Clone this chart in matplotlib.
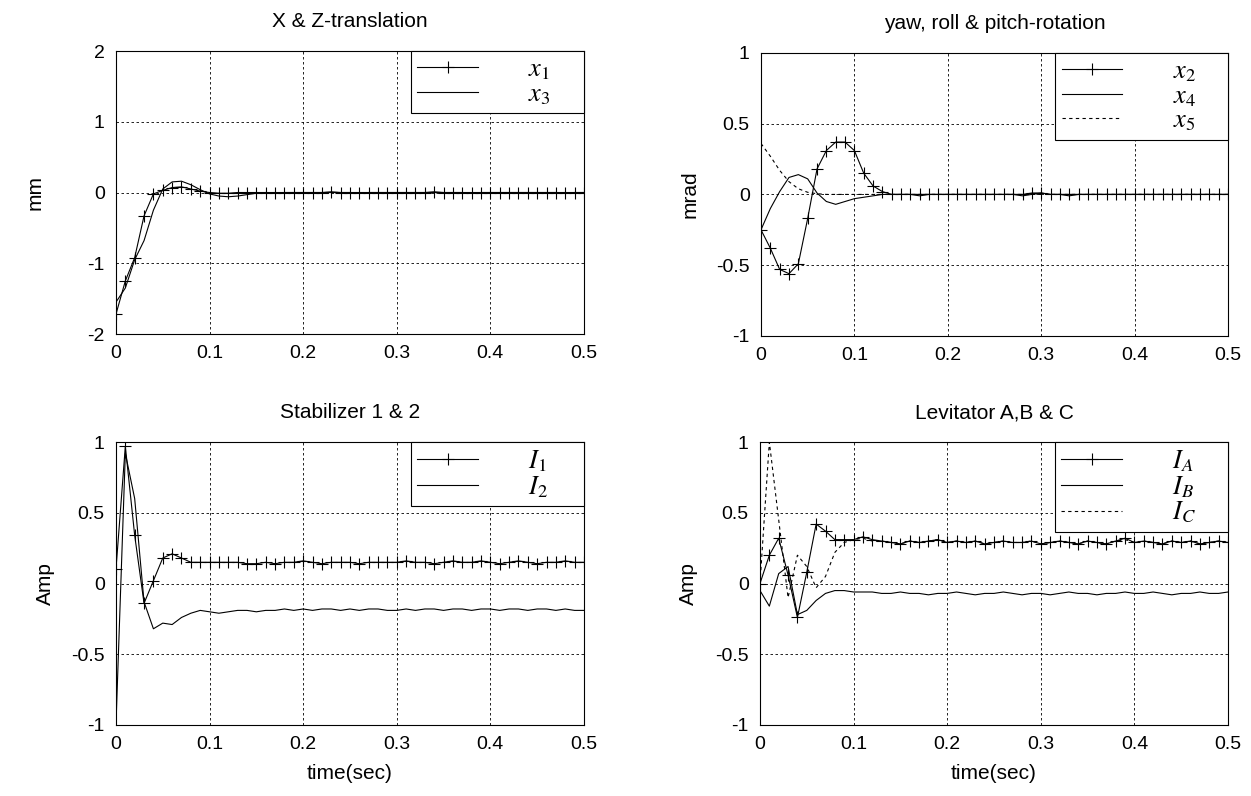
import numpy as np
import matplotlib
matplotlib.use('Agg')
import matplotlib.pyplot as plt

# sample instants (s)
t = np.linspace(0, 0.5, 51)

# X & Z translation (mm)
x1 = [-1.72, -1.25, -0.92, -0.33, -0.02, 0.03, 0.07, 0.08, 0.05, 0.02,
      0.00, -0.01, -0.01, 0.00, 0.00, 0.00, 0.00, -0.01, 0.00, 0.00,
      0.00, 0.00, 0.00, 0.01, 0.00, 0.00, -0.01, 0.00, 0.00, 0.00,
      0.00, 0.00, 0.00, 0.00, 0.01, 0.00, 0.00, 0.00, -0.01, 0.00,
      0.00, 0.00, 0.00, 0.00, 0.00, 0.00, 0.00, 0.00, -0.01, 0.00, 0.00]
x3 = [-1.55, -1.35, -0.95, -0.68, -0.25, 0.05, 0.15, 0.16, 0.11, 0.04,
      -0.02, -0.05, -0.06, -0.05, -0.03, -0.01, 0.00, 0.00, 0.00, 0.00,
      0.00, 0.00, 0.00, 0.00, 0.00, 0.00, 0.00, 0.00, 0.00, 0.00,
      0.00, 0.00, 0.00, 0.00, 0.00, 0.00, 0.00, 0.00, 0.00, 0.00,
      0.00, 0.00, 0.00, 0.00, 0.00, 0.00, 0.00, 0.00, 0.00, 0.00, 0.00]

# yaw, roll & pitch rotation (mrad)
x2 = [-0.25, -0.38, -0.53, -0.56, -0.49, -0.17, 0.18, 0.31, 0.37, 0.37,
      0.31, 0.15, 0.06, 0.02, 0.00, 0.00, 0.00, 0.00, 0.00, 0.00,
      0.00, 0.00, 0.00, 0.00, 0.00, 0.00, 0.00, 0.00, 0.00, 0.01,
      0.01, 0.00, 0.00, 0.00, 0.00, 0.00, 0.00, 0.00, 0.00, 0.00,
      0.00, 0.00, 0.00, 0.00, 0.00, 0.00, 0.00, 0.00, 0.00, 0.00, 0.00]
x4 = [-0.25, -0.10, 0.02, 0.12, 0.14, 0.11, 0.01, -0.05, -0.07, -0.05,
      -0.03, -0.02, -0.01, 0.00, 0.00, 0.00, 0.00, -0.01, 0.00, 0.00,
      0.00, 0.00, 0.00, 0.00, 0.00, 0.00, 0.00, 0.00, -0.01, 0.00,
      0.01, 0.00, 0.00, -0.01, 0.00, 0.00, 0.00, 0.00, 0.00, 0.00,
      0.00, 0.00, 0.00, 0.00, 0.00, 0.00, 0.00, 0.00, 0.00, 0.00, 0.00]
x5 = [0.36, 0.27, 0.17, 0.09, 0.04, 0.015, 0.005, 0.00, 0.00, 0.00,
      0.00, 0.00, 0.00, 0.00, 0.00, 0.00, 0.00, 0.00, 0.00, 0.00,
      0.00, 0.00, 0.00, 0.00, 0.00, 0.00, 0.00, 0.00, 0.00, 0.00,
      0.00, 0.00, 0.00, 0.00, 0.00, 0.00, 0.00, 0.00, 0.00, 0.00,
      0.00, 0.00, 0.00, 0.00, 0.00, 0.00, 0.00, 0.00, 0.00, 0.00, 0.00]

# stabilizer currents (A)
I1 = [0.10, 0.97, 0.34, -0.14, 0.02, 0.18, 0.21, 0.18, 0.15, 0.15,
      0.15, 0.15, 0.15, 0.15, 0.14, 0.14, 0.15, 0.14, 0.15, 0.15,
      0.16, 0.15, 0.14, 0.15, 0.15, 0.15, 0.14, 0.15, 0.15, 0.15,
      0.15, 0.16, 0.15, 0.15, 0.14, 0.15, 0.16, 0.15, 0.15, 0.16,
      0.15, 0.14, 0.15, 0.16, 0.15, 0.14, 0.15, 0.15, 0.16, 0.15, 0.15]
I2 = [-1.00, 0.92, 0.60, -0.13, -0.32, -0.28, -0.29, -0.24, -0.21, -0.19,
      -0.20, -0.21, -0.20, -0.19, -0.19, -0.20, -0.19, -0.19, -0.18, -0.19,
      -0.18, -0.19, -0.18, -0.18, -0.19, -0.18, -0.19, -0.18, -0.18, -0.19,
      -0.19, -0.18, -0.19, -0.18, -0.18, -0.19, -0.18, -0.18, -0.19, -0.18,
      -0.18, -0.19, -0.18, -0.18, -0.19, -0.18, -0.18, -0.19, -0.18, -0.19, -0.19]

# levitator currents (A)
IA = [0.00, 0.20, 0.32, 0.06, -0.24, 0.08, 0.42, 0.37, 0.31, 0.31,
      0.31, 0.33, 0.31, 0.30, 0.29, 0.28, 0.30, 0.29, 0.30, 0.31,
      0.29, 0.30, 0.29, 0.30, 0.28, 0.29, 0.30, 0.29, 0.29, 0.30,
      0.28, 0.29, 0.30, 0.29, 0.28, 0.30, 0.29, 0.28, 0.30, 0.32,
      0.29, 0.30, 0.29, 0.28, 0.30, 0.29, 0.30, 0.28, 0.29, 0.30, 0.29]
IB = [-0.05, -0.16, 0.07, 0.12, -0.22, -0.19, -0.12, -0.07, -0.05, -0.05,
      -0.06, -0.06, -0.06, -0.07, -0.07, -0.06, -0.07, -0.07, -0.08, -0.07,
      -0.07, -0.06, -0.07, -0.08, -0.07, -0.07, -0.06, -0.07, -0.08, -0.07,
      -0.07, -0.08, -0.07, -0.06, -0.07, -0.07, -0.08, -0.07, -0.07, -0.06,
      -0.07, -0.07, -0.06, -0.07, -0.08, -0.07, -0.07, -0.06, -0.07, -0.07, -0.06]
IC = [0.00, 1.00, 0.45, -0.10, 0.20, 0.12, -0.03, 0.05, 0.22, 0.29,
      0.31, 0.32, 0.30, 0.30, 0.29, 0.28, 0.30, 0.29, 0.30, 0.31,
      0.29, 0.30, 0.29, 0.30, 0.28, 0.29, 0.30, 0.29, 0.29, 0.30,
      0.28, 0.29, 0.30, 0.29, 0.28, 0.30, 0.29, 0.28, 0.30, 0.31,
      0.29, 0.30, 0.29, 0.28, 0.30, 0.29, 0.30, 0.28, 0.29, 0.30, 0.29]

plt.rcParams['font.family'] = ['Liberation Sans', 'DejaVu Sans']
plt.rcParams['mathtext.fontset'] = 'stix'

fig = plt.figure(figsize=(12.51, 7.96), dpi=100)
ax_tl = fig.add_axes([0.0927, 0.5804, 0.3741, 0.3555])
ax_tr = fig.add_axes([0.6083, 0.5780, 0.3733, 0.3555])
ax_bl = fig.add_axes([0.0927, 0.0892, 0.3741, 0.3555])
ax_br = fig.add_axes([0.6075, 0.0892, 0.3741, 0.3555])

lw = 0.8
plus = dict(marker='+', markersize=8, markeredgewidth=0.8)

ax_tl.plot(t, x1, color='k', lw=lw, label=r'$x_{\mathit{1}}$', **plus)
ax_tl.plot(t, x3, color='k', lw=lw, label=r'$x_{\mathit{3}}$')

ax_tr.plot(t, x2, color='k', lw=lw, label=r'$x_{\mathit{2}}$', **plus)
ax_tr.plot(t, x4, color='k', lw=lw, label=r'$x_{\mathit{4}}$')
ax_tr.plot(t, x5, color='k', lw=lw, ls=(0, (3, 3)), label=r'$x_{\mathit{5}}$')

ax_bl.plot(t, I1, color='k', lw=lw, label=r'$I_{\mathit{1}}$', **plus)
ax_bl.plot(t, I2, color='k', lw=lw, label=r'$I_{\mathit{2}}$')

ax_br.plot(t, IA, color='k', lw=lw, label='$I_A$', **plus)
ax_br.plot(t, IB, color='k', lw=lw, label='$I_B$')
ax_br.plot(t, IC, color='k', lw=lw, ls=(0, (3, 3)), label='$I_C$')

setup = [
    (ax_tl, 'X & Z-translation', 'mm', (-2, 2), [-2, -1, 0, 1, 2], -0.152),
    (ax_tr, 'yaw, roll & pitch-rotation', 'mrad', (-1, 1), [-1, -0.5, 0, 0.5, 1], -0.131),
    (ax_bl, 'Stabilizer 1 & 2', 'Amp', (-1, 1), [-1, -0.5, 0, 0.5, 1], -0.130),
    (ax_br, 'Levitator A,B & C', 'Amp', (-1, 1), [-1, -0.5, 0, 0.5, 1], -0.132),
]
for ax, title, ylab, ylim, yt, ylx in setup:
    ax.set_xlim(0, 0.5)
    ax.set_ylim(*ylim)
    ax.set_yticks(yt)
    ax.set_yticklabels([('%g' % v) for v in yt])
    ax.set_xticks([0, 0.1, 0.2, 0.3, 0.4, 0.5])
    ax.set_xticklabels(['0', '0.1', '0.2', '0.3', '0.4', '0.5'])
    ax.grid(True, color='k', lw=0.6, ls=(0, (3, 3)))
    ax.tick_params(direction='in', length=0, labelsize=14, pad=8)
    for s in ax.spines.values():
        s.set_linewidth(0.8)
    ax.set_title(title, fontsize=15, pad=17)
    ax.set_ylabel(ylab, fontsize=15)
    ax.yaxis.set_label_coords(ylx, 0.5)
    leg = ax.legend(loc='upper right', bbox_to_anchor=(0.63, 0, 0.37, 1),
                    mode='expand', borderaxespad=0, fancybox=False,
                    edgecolor='k', framealpha=1, fontsize=19,
                    handlelength=2.3, handletextpad=1.9, labelspacing=0.0,
                    borderpad=0.25)
    leg.get_frame().set_linewidth(0.8)

ax_bl.set_xlabel('time(sec)', fontsize=15, labelpad=8)
ax_br.set_xlabel('time(sec)', fontsize=15, labelpad=8)

fig.savefig('out.png', dpi=100)
